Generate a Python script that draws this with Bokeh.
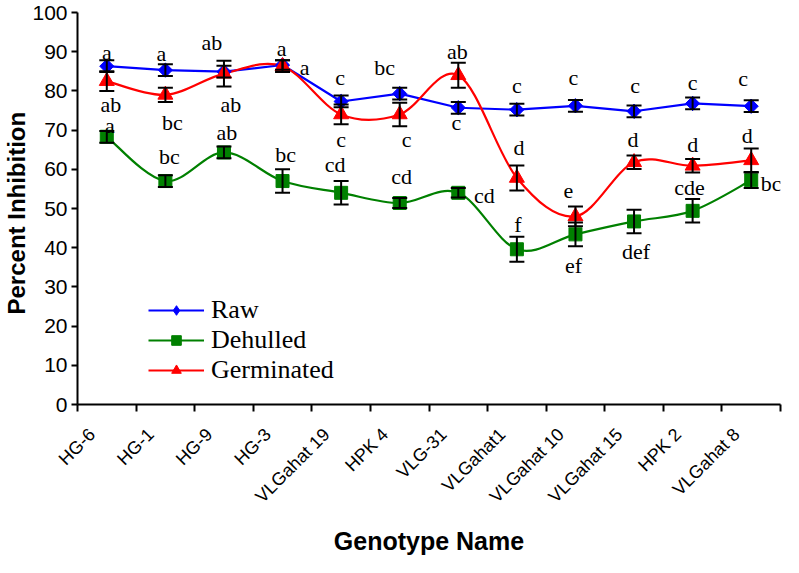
import math
from bokeh.plotting import figure
from bokeh.models import (Range1d, FixedTicker, ColumnDataSource, Whisker, TeeHead,
                          Legend, LegendItem, LabelSet, Title)
from bokeh.embed import file_html
from bokeh.resources import INLINE

# ---------------- data ----------------
genotypes = ["HG-6", "HG-1", "HG-9", "HG-3", "VLGahat 19", "HPK 4", "VLG-31",
             "VLGahat1", "VLGahat 10", "VLGahat 15", "HPK 2", "VLGahat 8"]

raw = [86.3, 85.3, 84.9, 86.6, 77.3, 79.3, 75.7, 75.2, 76.2, 74.8, 76.8, 76.1]
raw_err = [1.5, 1.5, 1.5, 1.2, 1.5, 1.5, 1.5, 1.5, 1.5, 1.5, 1.5, 1.5]
raw_letters = ["a", "a", "ab", "a", "c", "bc", "c", "c", "c", "c", "c", "c"]

dehulled = [68.3, 57.0, 64.3, 57.0, 54.0, 51.4, 54.0, 39.6, 43.4, 46.7, 49.4, 57.2]
dehulled_err = [1.5, 1.5, 1.5, 3.0, 3.0, 1.3, 1.2, 3.2, 3.0, 3.0, 3.0, 2.0]
dehulled_letters = ["a", "bc", "ab", "bc", "cd", "cd", "cd", "f", "ef", "def", "cde", "bc"]

germinated = [82.5, 79.0, 84.4, 86.3, 74.0, 74.0, 84.0, 57.8, 48.0, 61.8, 60.9, 62.3]
germinated_err = [2.5, 1.8, 3.3, 1.5, 2.5, 3.0, 3.2, 3.2, 2.5, 1.7, 1.7, 3.0]
germinated_letters = ["ab", "bc", "ab", "a", "c", "c", "ab", "d", "e", "d", "d", "d"]

y_ticks = [0, 10, 20, 30, 40, 50, 60, 70, 80, 90, 100]

# ---------------- label placement (screen px offsets, style only; +dy = down) ----------------
raw_dx = [0, -4, -12, -1, -1, -15, -2, 0, -2, 1, 0, -8]
raw_dy = [-14, -17, -29, -17, -24, -26, 15, -24, -28, -26, -21, -28]
ger_dx = [4, 7, 7, 22, 0, 7, -1, 2, -7, -1, 0, -4]
ger_dy = [23, 28, 31, 1, 25, 25, -24, -30, -25, -23, -21, -25]
deh_dx = [3, 4, 3, 3, -6, 2, 26, 1, -2, 2, -3, 20]
deh_dy = [-11, -25, -20, -27, -28, -27, 3, -25, 31, 30, -23, 3]

n = len(genotypes)
xs = [i + 0.5 for i in range(n)]          # category centres
label_pos = [x - 0.25 for x in xs]         # anchor of the rotated names

BLUE = "#0000ff"
GREEN = "#008000"
RED = "#ff0000"

p = figure(width=783, height=557, x_range=Range1d(0, n), y_range=Range1d(0, 100),
           output_backend="svg", toolbar_location=None,
           min_border_left=75, min_border_right=3, min_border_top=12, min_border_bottom=144)
p.outline_line_color = None
p.grid.visible = False
p.background_fill_color = "white"
p.border_fill_color = "white"

# axes
xa = p.xaxis[0]
xa.ticker = FixedTicker(ticks=label_pos, minor_ticks=list(range(n + 1)))
xa.major_label_overrides = {x: g for x, g in zip(label_pos, genotypes)}
xa.major_label_orientation = math.pi / 4
xa.major_tick_out = 0
xa.major_tick_in = 0
xa.minor_tick_out = 7
xa.minor_tick_in = 0
xa.minor_tick_line_width = 2
xa.minor_tick_line_color = "black"
xa.axis_line_width = 2
xa.major_label_text_font = "Liberation Sans"
xa.major_label_text_font_size = "18px"
xa.major_label_text_color = "black"
xa.major_label_standoff = 20
xa.axis_label = "Genotype Name"
xa.axis_label_text_font = "Liberation Sans"
xa.axis_label_text_font_style = "bold"
xa.axis_label_text_font_size = "25px"
xa.axis_label_standoff = 10
xa.axis_label_text_color = "black"

ya = p.yaxis[0]
ya.ticker = FixedTicker(ticks=y_ticks, minor_ticks=[])
ya.major_tick_out = 6
ya.major_tick_in = 0
ya.major_tick_line_width = 2
ya.axis_line_width = 2
ya.major_label_text_font = "Liberation Sans"
ya.major_label_text_font_size = "21px"
ya.major_label_text_color = "black"
ya.major_label_standoff = 4

# y-axis title, placed a little below the frame centre as in the original
ytitle = Title(text="Percent Inhibition", align="left", offset=90, standoff=0,
               text_font="Liberation Sans", text_font_style="bold",
               text_font_size="24px", text_color="black")
p.add_layout(ytitle, "left")


def smooth_bezier(vals):
    """Excel-style smoothed segments: control points from neighbouring data points."""
    d = {k: [] for k in ("x0", "y0", "x1", "y1", "cx0", "cy0", "cx1", "cy1")}
    for i in range(n - 1):
        xm, ym = (xs[i - 1], vals[i - 1]) if i > 0 else (xs[i], vals[i])
        xp, yp = (xs[i + 2], vals[i + 2]) if i + 2 < n else (xs[i + 1], vals[i + 1])
        d["x0"].append(xs[i]); d["y0"].append(vals[i])
        d["x1"].append(xs[i + 1]); d["y1"].append(vals[i + 1])
        d["cx0"].append(xs[i] + (xs[i + 1] - xm) / 6.0)
        d["cy0"].append(vals[i] + (vals[i + 1] - ym) / 6.0)
        d["cx1"].append(xs[i + 1] - (xp - xs[i]) / 6.0)
        d["cy1"].append(vals[i + 1] - (yp - vals[i]) / 6.0)
    return d


# lines
r_raw_line = p.line(xs, raw, line_color=BLUE, line_width=2.2)
bz = dict(x0="x0", y0="y0", x1="x1", y1="y1", cx0="cx0", cy0="cy0", cx1="cx1", cy1="cy1")
r_deh_line = p.bezier(source=ColumnDataSource(smooth_bezier(dehulled)), line_color=GREEN,
                      line_width=2.2, **bz)
r_ger_line = p.bezier(source=ColumnDataSource(smooth_bezier(germinated)), line_color=RED,
                      line_width=2.2, **bz)

# markers (the small diamond sits wholly under the turned square; it gives the legend its shape)
r_raw_leg = p.scatter(xs, raw, marker="diamond", size=14, fill_color=BLUE, line_color=BLUE)
r_raw_pts = p.scatter(xs, raw, marker="square", angle=math.pi / 4, size=10,
                      fill_color=BLUE, line_color=BLUE)
r_deh_pts = p.scatter(xs, dehulled, marker="square", size=13, fill_color=GREEN, line_color=GREEN)
r_ger_pts = p.scatter(xs, germinated, marker="triangle", size=15, fill_color=RED, line_color=RED)

# error bars
for vals, errs in ((raw, raw_err), (dehulled, dehulled_err), (germinated, germinated_err)):
    src = ColumnDataSource(dict(x=xs, lo=[v - e for v, e in zip(vals, errs)],
                                hi=[v + e for v, e in zip(vals, errs)]))
    w = Whisker(source=src, base="x", lower="lo", upper="hi", dimension="height",
                line_color="black", line_width=2, level="overlay",
                upper_head=TeeHead(size=15, line_color="black", line_width=2),
                lower_head=TeeHead(size=15, line_color="black", line_width=2))
    p.add_layout(w)

# significance letters
for vals, letters, dx, dy in ((raw, raw_letters, raw_dx, raw_dy),
                              (germinated, germinated_letters, ger_dx, ger_dy),
                              (dehulled, dehulled_letters, deh_dx, deh_dy)):
    src = ColumnDataSource(dict(x=xs, y=vals, t=letters, dx=dx, dy=[-d for d in dy]))
    ls = LabelSet(x="x", y="y", text="t", x_offset="dx", y_offset="dy", source=src,
                  text_font="Liberation Serif", text_font_size="22px",
                  text_color="black", text_align="center", text_baseline="middle",
                  level="overlay")
    p.add_layout(ls)

legend = Legend(items=[
    LegendItem(label="Raw", renderers=[r_raw_line, r_raw_leg]),
    LegendItem(label="Dehulled", renderers=[r_deh_line, r_deh_pts]),
    LegendItem(label="Germinated", renderers=[r_ger_line, r_ger_pts]),
], location=(71, 19))
legend.background_fill_alpha = 0
legend.border_line_color = None
legend.label_text_font = "Liberation Serif"
legend.label_text_font_size = "26px"
legend.label_text_line_height = 1.0
legend.label_text_color = "black"
legend.glyph_width = 56
legend.glyph_height = 24
legend.label_height = 24
legend.spacing = 0
legend.padding = 0
legend.margin = 0
legend.label_standoff = 7
p.add_layout(legend)

open("out.html", "w").write(file_html(p, INLINE))
